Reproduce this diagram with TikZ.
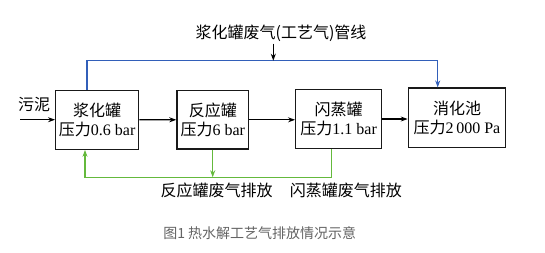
\documentclass[tikz,border=0pt]{standalone}
\usepackage{fontspec}
\setmainfont{Liberation Serif}
\newfontfamily\cjk{Noto Sans CJK SC}
\usetikzlibrary{arrows.meta}
\definecolor{pipeblue}{RGB}{50,95,185}
\definecolor{pipegreen}{RGB}{100,185,60}
\definecolor{capgray}{RGB}{100,100,100}
\begin{document}
\begin{tikzpicture}[x=1pt,y=-1pt,
  tank/.style={draw=black!90,line width=1.3pt,inner sep=0pt,align=center,
    font=\fontsize{16}{19}\selectfont},
  lbl/.style={inner sep=0pt,font=\fontsize{16}{19}\selectfont\cjk},
  flow/.style={line width=1.1pt,-{Stealth[length=7pt,width=5pt]}},
  blueline/.style={pipeblue,line width=1.3pt},
  greenline/.style={pipegreen,line width=1.3pt}]
\useasboundingbox (0,0) rectangle (545,252);
\fill[white] (0,0) rectangle (545,252);
\node[tank,minimum width=83pt,minimum height=59pt] (b1) at (97.2,119.7) {{\cjk 浆化罐}\\{\cjk 压力}0.6 bar};
\node[tank,minimum width=71.7pt,minimum height=58.5pt] (b2) at (212.8,119.8) {{\cjk 反应罐}\\{\cjk 压力}6 bar};
\node[tank,minimum width=86pt,minimum height=59.4pt] (b3) at (338.7,119) {{\cjk 闪蒸罐}\\{\cjk 压力}1.1 bar};
\node[tank,minimum width=97.4pt,minimum height=59.3pt] (b4) at (457,117.7) {{\cjk 消化池}\\{\cjk 压力}2\,000 Pa};
% input
\coordinate (src) at (20,119.7);
\node[lbl] (wn) at (34,105) {污泥};
\draw[flow] (src) -- (b1.west);
\draw[flow] (b1.east) -- (b2.west);
\draw[flow] (b2.east) -- (b2.east -| b3.west);
\draw[flow] (b3.east) -- (b3.east -| b4.west);
% top label & blue line
\node[lbl] (top) at (281,33) {浆化罐废气(工艺气)管线};
\coordinate (bl) at (87,60.7);
\coordinate (br) at (437.7,60.7);
\coordinate (tj) at (273.3,60.7);
\draw[blueline] (b1.north -| bl) -- (bl) -- (br);
\draw[blueline,-{Stealth[length=7pt,width=5pt]}] (br) -- (b4.north -| br);
\draw[line width=1.1pt,-{Stealth[length=7pt,width=5pt]}] (top.south -| tj) ++(0,2) -- (tj);
% green lines
\coordinate (g1) at (85,177.3);
\coordinate (g2) at (212.7,177.3);
\coordinate (g3) at (331.7,177.3);
\draw[greenline,-{Stealth[length=7pt,width=5pt]}] (b3.south -| g3) -- (g3) -- (g1) -- (b1.south -| g1);
\draw[greenline,-{Stealth[length=7pt,width=5pt]}] (b2.south -| g2) -- (g2);
\node[lbl] (r2) at (216.7,190) {反应罐废气排放};
\node[lbl] (r3) at (345.8,190) {闪蒸罐废气排放};
% caption
\node[inner sep=0pt,text=capgray,font=\fontsize{14}{16}\selectfont\cjk] (cap) at (259.7,233) {图1 热水解工艺气排放情况示意};
\end{tikzpicture}
\end{document}
